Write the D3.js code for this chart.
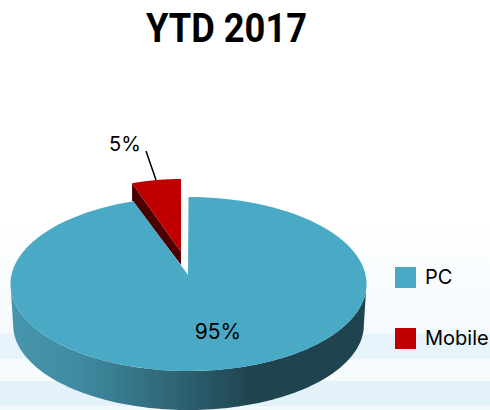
<!DOCTYPE html>
<html><head><meta charset="utf-8">
<script src="https://cdn.jsdelivr.net/npm/d3@7/dist/d3.min.js"></script>
<style>html,body{margin:0;padding:0;background:#fff}svg{display:block}</style></head>
<body><svg id="c" width="490" height="410"></svg>
<script>
const categories = ["PC", "Mobile"];
const values = [95, 5];
const labels = ["95%", "5%"];
const colors = ["#4aa9c4", "#c00000"];
const darkColors = ["#1f4450", "#4d0000"];
const chartTitle = "YTD 2017";

const W = 490, H = 410;
const svg = d3.select("#c");
const defs = svg.append("defs");

// background
const bg = defs.append("linearGradient").attr("id","bg").attr("x1",0).attr("x2",0).attr("y1",0).attr("y2",1);
[[0,"#ffffff"],[0.53,"#ffffff"],[0.815,"#f3f9fd"],[0.815,"#e6f3fa"],[0.875,"#e8f4fb"],[0.875,"#f6fbfe"],[0.93,"#f6fbfe"],[0.93,"#e4f2fa"],[0.99,"#e4f2fa"],[0.99,"#f2f9fd"],[1,"#f2f9fd"]]
 .forEach(s=>bg.append("stop").attr("offset",s[0]).attr("stop-color",s[1]));
svg.append("rect").attr("width",W).attr("height",H).attr("fill","url(#bg)");

const cx = 188.5, cy = 284, rx = 178, ry = 87, apexY = 275;
const pie = d3.pie().sort(null).startAngle(0).endAngle(2*Math.PI);
const arcs = pie(values);
const pc = arcs[0], mob = arcs[1];

const px = d3.scaleLinear().domain([-1,1]).range([cx-rx,cx+rx]);
const py = d3.scaleLinear().domain([-1,1]).range([cy+ry,cy-ry]);
const line = d3.line().x(d=>d[0]).y(d=>d[1]);
const rim = (a0,a1,dx=0,dy=0,kx=1,ky=1) => d3.range(0,121).map(i=>{
  const a = a0+(a1-a0)*i/120;
  return [cx+dx+(px(Math.sin(a))-cx)*kx, cy+dy+(py(Math.cos(a))-cy)*ky];
});

// side wall of the main slice
const sg = defs.append("linearGradient").attr("id","side").attr("gradientUnits","userSpaceOnUse")
  .attr("x1",cx-rx).attr("x2",cx+rx).attr("y1",0).attr("y2",0);
[[0,"#4796ae"],[0.2,"#3f8aa1"],[0.45,"#2f6676"],[0.68,darkColors[0]],[1,darkColors[0]]]
 .forEach(s=>sg.append("stop").attr("offset",s[0]).attr("stop-color",s[1]));
const upperEdge = rim(Math.PI/2, 3*Math.PI/2);
const lowerEdge = rim(3*Math.PI/2, Math.PI/2, 0, 41, 0.985, 0.977);
svg.append("path").attr("d",line(upperEdge.concat(lowerEdge))+"Z").attr("fill","url(#side)");

// exploded slice
const mobApex = [cx-7.5, 252];
const mobRim = rim(mob.startAngle, mob.endAngle, -7.5, -18, 0.89, 1);
const sideD = 17;
svg.append("path").attr("d",line([mobApex,mobRim[0],[mobRim[0][0],mobRim[0][1]+sideD],[mobApex[0],mobApex[1]+13]])+"Z")
  .attr("fill",darkColors[1]);
svg.append("path").attr("d",line([mobApex,...mobRim])+"Z").attr("fill",colors[1]);

// main slice
svg.append("path").attr("d",line([[cx-0.5,apexY],...rim(pc.startAngle,pc.endAngle)])+"Z").attr("fill",colors[0]);

// leader
svg.append("line").attr("x1",146).attr("y1",151).attr("x2",156).attr("y2",180).attr("stroke","#000").attr("stroke-width",1.5);

const font = "Inter, Roboto, sans-serif";
svg.append("text").attr("x",226.5).attr("y",42).attr("text-anchor","middle")
  .attr("font-family","Roboto, Inter, sans-serif").attr("font-weight",700).attr("font-size",41)
  .attr("textLength",161).attr("lengthAdjust","spacingAndGlyphs").attr("fill","#000").text(chartTitle);
svg.append("text").attr("x",218).attr("y",339).attr("text-anchor","middle")
  .attr("font-family",font).attr("font-size",21).attr("fill","#000").text(labels[0]);
svg.append("text").attr("x",125).attr("y",151).attr("text-anchor","middle")
  .attr("font-family",font).attr("font-size",20).attr("fill","#000").text(labels[1]);

const ly = d3.scalePoint().domain(categories).range([267,328]);
categories.forEach((c,i)=>{
  svg.append("rect").attr("x",395).attr("y",ly(c)).attr("width",21).attr("height",21).attr("fill",colors[i]);
  svg.append("text").attr("x",425).attr("y",ly(c)+17).attr("font-family",font).attr("font-size",20).attr("fill","#000").text(c);
});
</script></body></html>
